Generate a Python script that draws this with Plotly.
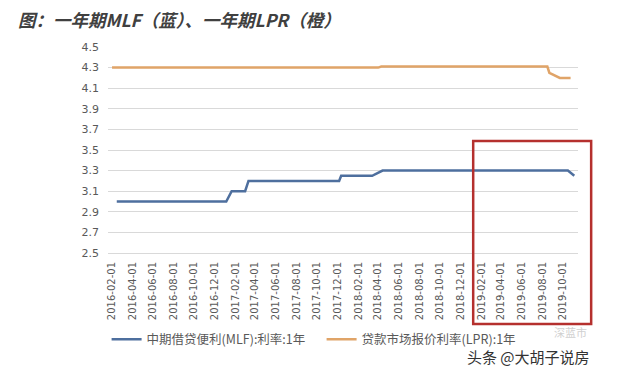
import plotly.graph_objects as go

# ---- data ----
mlf_dates = ["2016-02-15", "2017-01-05", "2017-01-21", "2017-03-02", "2017-03-12",
             "2017-12-06", "2017-12-12", "2018-03-14", "2018-04-14", "2019-10-16", "2019-11-04"]
mlf_values = [3.00, 3.00, 3.10, 3.10, 3.20, 3.20, 3.25, 3.25, 3.30, 3.30, 3.25]

lpr_dates = ["2016-02-01", "2018-04-01", "2018-04-10", "2019-08-16", "2019-08-22",
             "2019-09-22", "2019-10-24"]
lpr_values = [4.30, 4.30, 4.31, 4.31, 4.25, 4.20, 4.20]

x_ticks = ["2016-02-01", "2016-04-01", "2016-06-01", "2016-08-01", "2016-10-01", "2016-12-01",
           "2017-02-01", "2017-04-01", "2017-06-01", "2017-08-01", "2017-10-01", "2017-12-01",
           "2018-02-01", "2018-04-01", "2018-06-01", "2018-08-01", "2018-10-01", "2018-12-01",
           "2019-02-01", "2019-04-01", "2019-06-01", "2019-08-01", "2019-10-01"]
y_ticks = [2.5, 2.7, 2.9, 3.1, 3.3, 3.5, 3.7, 3.9, 4.1, 4.3, 4.5]
y_tick_labels = ["2.5", "2.7", "2.9", "3.1", "3.3", "3.5", "3.7", "3.9", "4.1", "4.3", "4.5"]

FONT = "Noto Sans CJK SC"

fig = go.Figure()
fig.add_trace(go.Scatter(x=mlf_dates, y=mlf_values, mode="lines",
                         name="中期借贷便利(MLF):利率:1年",
                         line=dict(color="#4e6f9e", width=2.5)))
fig.add_trace(go.Scatter(x=lpr_dates, y=lpr_values, mode="lines",
                         name="贷款市场报价利率(LPR):1年",
                         line=dict(color="#e0a468", width=2.5)))

# red highlight box around 2019 (drawn in paper space so it can extend past the axis)
fig.add_shape(type="rect", xref="paper", yref="paper",
              x0=0.777, x1=1.028, y0=-0.345, y1=0.544,
              line=dict(color="#b5302e", width=2.5), fillcolor="rgba(0,0,0,0)")

fig.add_annotation(text="深蓝市", xref="paper", yref="paper", x=0.985, y=-0.385,
                   xanchor="center", yanchor="middle", showarrow=False,
                   font=dict(family=FONT, size=11, color="#d0d0d0"))
fig.add_annotation(text="头条 @大胡子说房", xref="paper", yref="paper", x=1.03, y=-0.50,
                   xanchor="right", yanchor="middle", showarrow=False,
                   font=dict(family=FONT, size=15, color="#333333"))

fig.update_layout(
    width=640, height=370,
    margin=dict(l=108, r=62, t=47, b=117),
    paper_bgcolor="white", plot_bgcolor="white",
    title=dict(text="图：一年期MLF（蓝）、一年期LPR（橙）",
               x=18 / 640, xref="container", xanchor="left",
               y=0.943, yanchor="middle",
               font=dict(family=FONT, size=17.5, color="#404040", weight="bold", style="italic")),
    showlegend=True,
    legend=dict(orientation="h", x=-0.003, xanchor="left", y=-0.42, yanchor="middle",
                font=dict(family=FONT, size=12.5, color="#595959"),
                bgcolor="rgba(0,0,0,0)", itemwidth=30, tracegroupgap=0,
                entrywidth=170, entrywidthmode="pixels"),
    xaxis=dict(type="date", range=["2016-01-20", "2019-11-15"],
               tickmode="array", tickvals=x_ticks, ticktext=x_ticks,
               tickangle=-90, ticks="", showgrid=False, zeroline=False,
               showline=True, linecolor="#d9d9d9", linewidth=1,
               ticklabelstandoff=4,
               tickfont=dict(family="DejaVu Sans", size=10, color="#595959")),
    yaxis=dict(range=[2.5, 4.5], tickmode="array", tickvals=y_ticks, ticktext=y_tick_labels,
               showgrid=True, gridcolor="#d9d9d9", gridwidth=1, zeroline=False,
               ticks="", showline=False, ticklabelstandoff=8,
               tickfont=dict(family="DejaVu Sans", size=11, color="#595959")),
)

fig.write_html("out.html")
